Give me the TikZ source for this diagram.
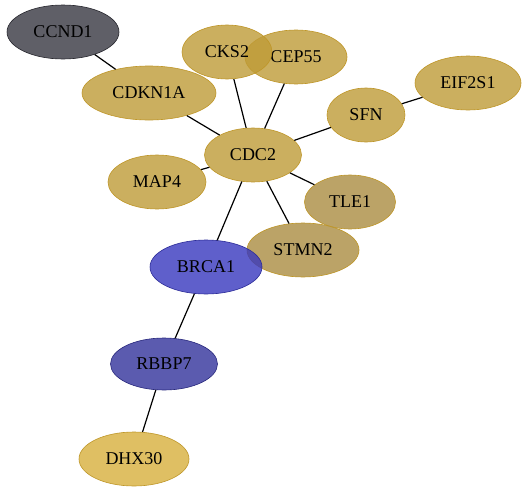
\documentclass[tikz,border=0pt]{standalone}
\usepackage{fontspec}
\setmainfont{Liberation Serif}
\usepackage{tikz}
\usetikzlibrary{shapes.geometric}
\definecolor{goldfill}{RGB}{190,155,55}
\definecolor{goldline}{RGB}{190,150,40}
\definecolor{tanfill}{RGB}{170,140,65}
\definecolor{yellowfill}{RGB}{215,175,60}
\definecolor{bluefill}{RGB}{55,55,190}
\definecolor{navyfill}{RGB}{50,50,155}
\definecolor{greyfill}{RGB}{55,55,65}

\begin{document}
\begin{tikzpicture}[x=1pt, y=-1pt, semithick]
        \tikzset{
           gene/.style={
                        ellipse,
                        draw=goldline,
                        fill=goldfill,
                        fill opacity=0.8,
                        text opacity=1,
                        inner sep=0pt,
                        minimum height=54pt,
                        font=\fontsize{18}{20}\selectfont,
                        text=black
                       },
           tanGene/.style={
                        gene,
                        fill=tanfill
                       },
           paleGene/.style={
                        gene,
                        fill=yellowfill
                       },
           blueGene/.style={
                        gene,
                        draw=bluefill!80!black,
                        fill=bluefill
                       },
           navyGene/.style={
                        gene,
                        draw=navyfill!80!black,
                        fill=navyfill
                       },
           greyGene/.style={
                        gene,
                        draw=greyfill!70!black,
                        fill=greyfill
                       },
           link/.style={
                        draw=black,
                        line width=1.2pt
                       },
                 };
        \useasboundingbox (0,0) rectangle (528,493);
    %--------------------
        \node[greyGene] (CCND1)  [minimum width=112pt] at (63,32)   {CCND1};
        \node[gene]     (CEP55)  [minimum width=102pt] at (296,57)  {CEP55};
        \node[gene]     (CKS2)   [minimum width=90pt]  at (227,52)  {CKS2};
        \node[gene]     (CDKN1A) [minimum width=134pt] at (149,93)  {CDKN1A};
        \node[gene]     (EIF2S1) [minimum width=106pt] at (468,83)  {EIF2S1};
        \node[gene]     (SFN)    [minimum width=78pt]  at (366,115) {SFN};
        \node[gene]     (CDC2)   [minimum width=97pt]  at (253,155) {CDC2};
        \node[gene]     (MAP4)   [minimum width=98pt]  at (157,182) {MAP4};
        \node[tanGene]  (TLE1)   [minimum width=91pt]  at (350,202) {TLE1};
        \node[tanGene]  (STMN2)  [minimum width=112pt] at (303,250) {STMN2};
        \node[blueGene] (BRCA1)  [minimum width=112pt] at (206,267) {BRCA1};
        \node[navyGene] (RBBP7)  [minimum width=107pt, minimum height=52pt] at (164,364) {RBBP7};
        \node[paleGene] (DHX30)  [minimum width=110pt] at (134,459) {DHX30};
    %--------------------
        \path[link] (CCND1)  edge (CDKN1A)
                    (CDKN1A) edge (CDC2)
                    (CKS2)   edge (CDC2)
                    (CEP55)  edge (CDC2)
                    (SFN)    edge (CDC2)
                    (SFN)    edge (EIF2S1)
                    (MAP4)   edge (CDC2)
                    (TLE1)   edge (CDC2)
                    (STMN2)  edge (CDC2)
                    (BRCA1)  edge (CDC2)
                    (BRCA1)  edge (RBBP7)
                    (RBBP7)  edge (DHX30);
\end{tikzpicture}
\end{document}
